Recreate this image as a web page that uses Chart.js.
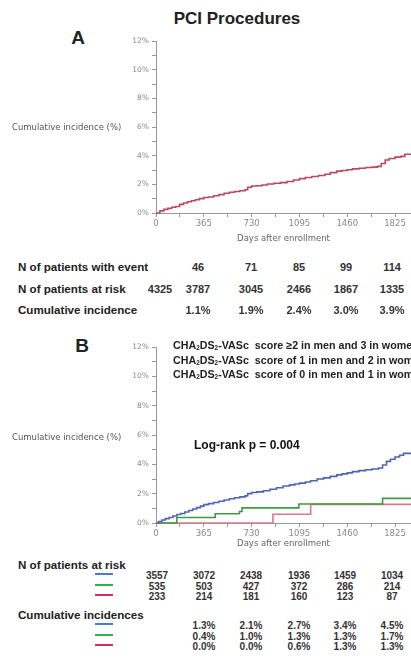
<!DOCTYPE html>
<html>
<head>
<meta charset="utf-8">
<script src="https://cdn.jsdelivr.net/npm/chart.js@4.4.1/dist/chart.umd.min.js"></script>
<style>
  html,body{margin:0;padding:0;background:#fff;}
  #wrap{position:relative;width:411px;height:672px;overflow:hidden;background:#fff;}
  .t{position:absolute;white-space:pre;line-height:1;}
  canvas{position:absolute;}
  sub{font-size:0.6em;vertical-align:-0.25em;line-height:0;}
</style>
</head>
<body>
<div id="wrap">
  <canvas id="cA" width="311" height="214" style="left:100px;top:30px;"></canvas>
  <canvas id="cB" width="311" height="213" style="left:100px;top:336px;"></canvas>
</div>
<script>
// ---------------- DATA ----------------
const title = 'PCI Procedures';
const xTickDays = [0, 365, 730, 1095, 1460, 1825];

// Panel A : overall cumulative incidence curve (day, %)
const curveADays = [0,30,60,90,120,150,180,210,240,270,300,330,365,400,440,480,520,560,600,640,680,700,730,770,810,850,900,950,1000,1050,1095,1140,1190,1240,1290,1330,1380,1420,1460,1500,1550,1600,1650,1690,1720,1750,1780,1825,1870,1900,1947];
const curveAPct  = [0,0.15,0.25,0.32,0.4,0.45,0.6,0.7,0.78,0.85,0.92,1.0,1.08,1.12,1.2,1.28,1.38,1.45,1.5,1.55,1.62,1.8,1.88,1.9,1.95,2.02,2.08,2.12,2.2,2.3,2.4,2.48,2.55,2.62,2.7,2.82,2.92,2.97,3.02,3.08,3.12,3.17,3.2,3.25,3.45,3.7,3.8,3.9,3.95,4.1,4.12];

// Panel A table
const eventsA  = [null, 46, 71, 85, 99, 114];
const atRiskA  = [4325, 3787, 3045, 2466, 1867, 1335];
const cumIncA  = [null, 1.1, 1.9, 2.4, 3.0, 3.9];

// Panel B curves (day, %)
const highDays = [0,20,45,70,100,130,160,190,220,250,280,310,340,365,400,440,480,520,560,600,640,680,700,730,770,820,870,920,970,1020,1060,1095,1140,1180,1230,1280,1330,1380,1420,1460,1500,1550,1600,1650,1700,1730,1760,1790,1825,1860,1890,1947];
const highPct  = [0,0.1,0.2,0.3,0.38,0.48,0.58,0.65,0.75,0.85,0.95,1.05,1.15,1.25,1.32,1.4,1.48,1.57,1.65,1.72,1.78,1.85,2.0,2.08,2.12,2.2,2.3,2.4,2.52,2.6,2.66,2.72,2.8,2.88,3.0,3.08,3.18,3.28,3.35,3.42,3.5,3.57,3.63,3.68,3.75,3.95,4.2,4.35,4.5,4.62,4.75,4.8];
const midDays  = [0,159,452,637,657,1091,1730,1947];
const midPct   = [0,0.38,0.63,0.78,1.03,1.3,1.68,1.68];
const lowDays  = [0,893,1181,1947];
const lowPct   = [0,0.6,1.27,1.27];

const legendB = [
  'CHA<sub>2</sub>DS<sub>2</sub>-VASc  score \u22652 in men and 3 in women',
  'CHA<sub>2</sub>DS<sub>2</sub>-VASc  score of 1 in men and 2 in women',
  'CHA<sub>2</sub>DS<sub>2</sub>-VASc  score of 0 in men and 1 in women'
];
const logRank = 'Log-rank p = 0.004';

// Panel B tables
const atRiskHigh = [3557, 3072, 2438, 1936, 1459, 1034];
const atRiskMid  = [535, 503, 427, 372, 286, 214];
const atRiskLow  = [233, 214, 181, 160, 123, 87];
const cumHigh = [null, 1.3, 2.1, 2.7, 3.4, 4.5];
const cumMid  = [null, 0.4, 1.0, 1.3, 1.3, 1.7];
const cumLow  = [null, 0.0, 0.0, 0.6, 1.3, 1.3];

// ---------------- STYLE ----------------
const C_RED_A = '#b94a5e';
const C_BLUE = '#4d66b3';
const C_GREEN = '#3f9c42';
const C_PINK = '#d77a8c';
const L_BLUE = '#4a7cc9', L_GREEN = '#2fb24a', L_PINK = '#d42a6e';

const wrap = document.getElementById('wrap');
function txt(html, x, y, opts) {
  const d = document.createElement('div');
  d.className = 't';
  d.innerHTML = html;
  const o = Object.assign({size: 11, weight: 'bold', family: '"Liberation Sans", Arial, sans-serif', color: '#222', align: 'left'}, opts || {});
  d.style.fontSize = o.size + 'px';
  d.style.fontWeight = o.weight;
  d.style.fontFamily = o.family;
  d.style.color = o.color;
  d.style.left = x + 'px';
  d.style.top = y + 'px';
  const tx = o.align === 'center' ? '-50%' : (o.align === 'right' ? '-100%' : '0');
  d.style.transform = 'translate(' + tx + ',-50%)';
  wrap.appendChild(d);
  return d;
}
function seg(x, y, w, color) {
  const d = document.createElement('div');
  d.style.position = 'absolute';
  d.style.left = x + 'px'; d.style.top = (y - 1) + 'px';
  d.style.width = w + 'px'; d.style.height = '2px';
  d.style.background = color;
  wrap.appendChild(d);
}
const pct = v => v.toFixed(1) + '%';

// Headings
txt(title, 237, 18, {size: 17, align: 'center'});
txt('A', 78, 37, {size: 19, align: 'center'});
txt('B', 82, 345, {size: 19, align: 'center'});
const ylabStyle = {size: 8.5, weight: 'normal', family: '"DejaVu Sans", sans-serif', color: '#555'};
txt('Cumulative incidence (%)', 12, 127, ylabStyle);
txt('Cumulative incidence (%)', 12, 437, ylabStyle);

// Legend B and log-rank
const legY = [345, 360, 374];
legendB.forEach((s, i) => txt(s, 173, legY[i], {size: 10.7, color: '#222'}));
txt(logRank, 194, 445, {size: 12, color: '#111'});

// Table A
const colA = [160, 198, 251, 299, 346, 392];
txt('N of patients with event', 18, 267, {size: 11.6});
txt('N of patients at risk', 18, 289, {size: 11.6});
txt('Cumulative incidence', 18, 310, {size: 11.6});
eventsA.forEach((v, i) => { if (v !== null) txt(String(v), colA[i], 267, {size: 11, align: 'center', color: '#333'}); });
atRiskA.forEach((v, i) => txt(String(v), colA[i], 289, {size: 11, align: 'center', color: '#333'}));
cumIncA.forEach((v, i) => { if (v !== null) txt(pct(v), colA[i], 310, {size: 11, align: 'center', color: '#333'}); });

// Table B
const colB = [157, 204, 251, 299, 345, 392];
txt('N of patients at risk', 18, 565, {size: 11.6});
txt('Cumulative incidences', 18, 615, {size: 11.6});
const riskRows = [[atRiskHigh, L_BLUE, 576], [atRiskMid, L_GREEN, 587], [atRiskLow, L_PINK, 597]];
riskRows.forEach(([arr, col, y]) => {
  seg(95, y - 2, 18, col);
  arr.forEach((v, i) => txt(String(v), colB[i], y, {size: 10, align: 'center', color: '#333'}));
});
const cumRows = [[cumHigh, L_BLUE, 626], [cumMid, L_GREEN, 637], [cumLow, L_PINK, 647]];
cumRows.forEach(([arr, col, y]) => {
  seg(95, y - 2, 18, col);
  arr.forEach((v, i) => { if (v !== null) txt(pct(v), colB[i], y, {size: 10, align: 'center', color: '#333'}); });
});

// ---------------- CHARTS ----------------
const pts = (xs, ys) => xs.map((x, i) => ({x: x, y: ys[i]}));
function makeChart(id, datasets, xAxisHeight) {
  return new Chart(document.getElementById(id), {
    type: 'line',
    data: {datasets: datasets.map(d => Object.assign({
      stepped: true, borderWidth: 1.6, pointRadius: 0, fill: false, clip: false
    }, d))},
    options: {
      responsive: false, animation: false, devicePixelRatio: 1,
      layout: {padding: {top: 11, right: 0, bottom: 0, left: 0}},
      plugins: {legend: {display: false}, tooltip: {enabled: false}},
      scales: {
        x: {
          type: 'linear', min: 0, max: 1947,
          border: {color: '#999', width: 1},
          grid: {display: true, drawOnChartArea: false, drawTicks: true, tickLength: 4, tickColor: '#999'},
          ticks: {stepSize: 182.5, includeBounds: false, autoSkip: false, maxRotation: 0, padding: 2,
            color: '#888', font: {family: '"DejaVu Sans", sans-serif', size: 8.5},
            callback: v => (xTickDays.indexOf(v) >= 0 ? String(v) : '')},
          title: {display: true, text: 'Days after enrollment', color: '#666', padding: 0,
            font: {family: '"DejaVu Sans", sans-serif', size: 8.5}},
          afterFit: s => { s.height = xAxisHeight; }
        },
        y: {
          type: 'linear', min: 0, max: 12,
          border: {color: '#999', width: 1},
          grid: {display: true, drawOnChartArea: false, drawTicks: true, tickLength: 4, tickColor: '#999'},
          ticks: {stepSize: 1, autoSkip: false, padding: 3, color: '#888',
            font: {family: '"DejaVu Sans", sans-serif', size: 7.5},
            callback: v => (v % 2 === 0 ? v + '%' : '')},
          afterFit: s => { s.width = 56; }
        }
      }
    }
  });
}

makeChart('cA', [
  {data: pts(curveADays, curveAPct), borderColor: C_RED_A}
], 31);

makeChart('cB', [
  {data: pts(highDays, highPct), borderColor: C_BLUE},
  {data: pts(midDays, midPct), borderColor: C_GREEN},
  {data: pts(lowDays, lowPct), borderColor: C_PINK}
], 26);
</script>
</body>
</html>
